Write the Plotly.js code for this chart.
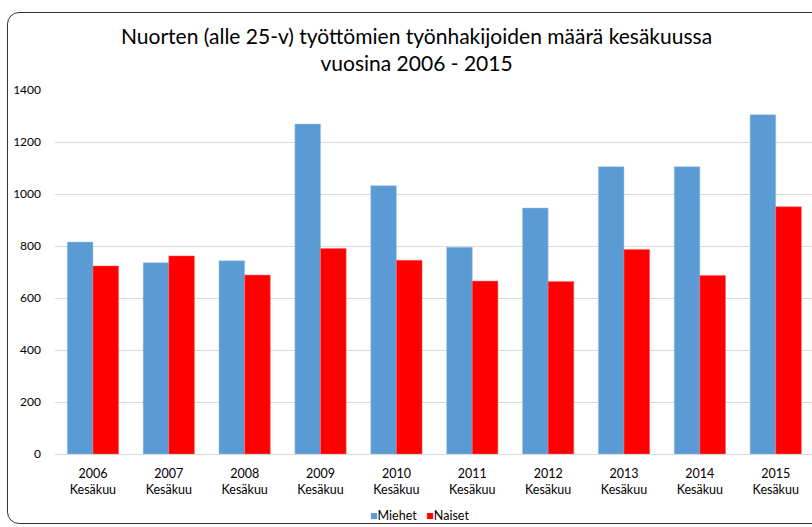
<!DOCTYPE html>
<html>
<head>
<meta charset="utf-8">
<script src="https://cdn.plot.ly/plotly-3.0.1.min.js"></script>
<style>
html,body{margin:0;padding:0;overflow:hidden;background:#fff;}
#chart{width:812px;height:527px;}
#frame{position:absolute;left:7px;top:12px;width:830px;height:512px;border:1px solid #333;border-radius:12px;pointer-events:none;box-sizing:border-box;}
</style>
</head>
<body>
<div id="chart"></div>
<div id="frame"></div>
<script>
const years = ["2006","2007","2008","2009","2010","2011","2012","2013","2014","2015"];
const tickLabels = ["2006<br>Kesäkuu","2007<br>Kesäkuu","2008<br>Kesäkuu","2009<br>Kesäkuu","2010<br>Kesäkuu","2011<br>Kesäkuu","2012<br>Kesäkuu","2013<br>Kesäkuu","2014<br>Kesäkuu","2015<br>Kesäkuu"];
const miehet = [815, 736, 743, 1269, 1032, 795, 946, 1105, 1105, 1305];
const naiset = [723, 762, 688, 790, 745, 665, 663, 787, 687, 951];
const seriesNames = ["Miehet", "Naiset"];
const colors = ["#5B9BD5", "#FF0000"];

const font = "Lato, 'Open Sans', sans-serif";
const traces = [
  {type:"bar", name:seriesNames[0], x:years, y:miehet, marker:{color:colors[0], line:{color:"#9DC3E6", width:0.5}}},
  {type:"bar", name:seriesNames[1], x:years, y:naiset, marker:{color:colors[1], line:{color:"#FF6666", width:0.5}}}
];
const legendText = seriesNames.map((n,i)=>'<span style="color:'+colors[i]+'">■</span>'+n).join('&nbsp;&nbsp;&nbsp;');
const layout = {
  width:812, height:527,
  margin:{l:55, r:0, t:90, b:73},
  paper_bgcolor:"rgba(0,0,0,0)", plot_bgcolor:"#fff",
  font:{family:font, color:"#000", size:12},
  title:{text:"Nuorten (alle 25-v) työttömien työnhakijoiden määrä kesäkuussa<br>vuosina 2006 - 2015",
         font:{family:font, size:21, color:"#000"}, x:0.513, xanchor:"center", y:0.917, yanchor:"middle"},
  barmode:"group", bargap:0.324, bargroupgap:0,
  xaxis:{type:"category", range:[-0.5, 9.478], tickvals:years, ticktext:tickLabels, automargin:false,
         showgrid:false, zeroline:false, showline:false, ticks:"", ticklabelstandoff:10,
         tickfont:{size:12.5, family:font}},
  yaxis:{range:[0,1400], dtick:200, showgrid:true, gridcolor:"#d9d9d9", gridwidth:1, automargin:false,
         zeroline:true, zerolinecolor:"#d9d9d9", zerolinewidth:1, showline:false, ticks:"",
         ticklabelstandoff:13, tickfont:{size:12, family:font}},
  showlegend:false,
  annotations:[{text:legendText, xref:"paper", yref:"paper", x:0.481, y:-0.168, xanchor:"center", yanchor:"middle",
                showarrow:false, font:{size:12.5, family:font, color:"#000"}}]
};
Plotly.newPlot("chart", traces, layout, {displayModeBar:false, staticPlot:true});
</script>
</body>
</html>
